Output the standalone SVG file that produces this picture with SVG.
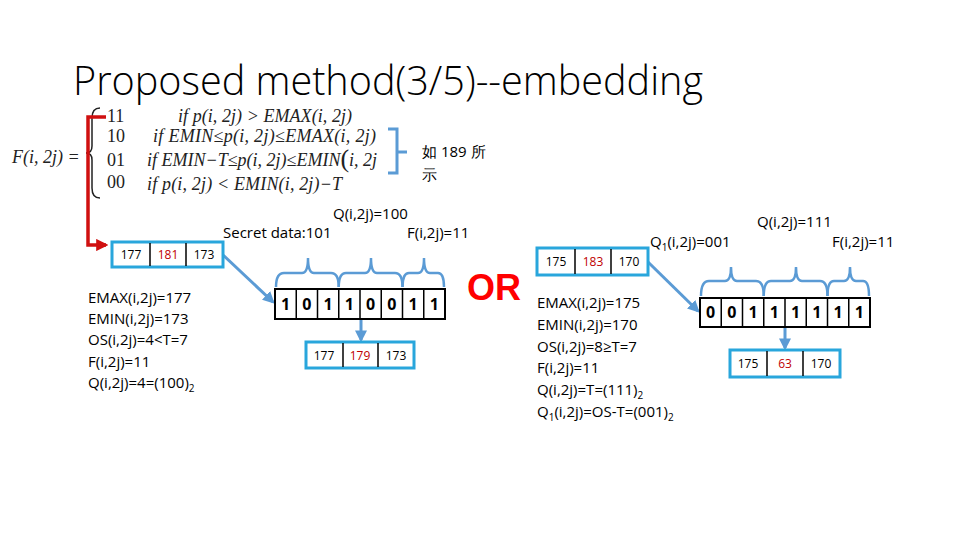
<svg xmlns="http://www.w3.org/2000/svg" width="960" height="540" viewBox="0 0 960 540">
<defs>
<style>
.t{font-family:"Open Sans","Liberation Sans",sans-serif;fill:#000}
.m{font-family:"Liberation Serif","DejaVu Serif",serif;font-style:italic;font-size:18px;fill:#222}
.mu{font-family:"Liberation Serif","DejaVu Serif",serif;font-size:18px;fill:#222}
.box{fill:#fff;stroke:#29a6dc;stroke-width:3}
.div{stroke:#000;stroke-width:1.5}
.bits{fill:#fff;stroke:#000;stroke-width:2}
.num{font-family:"Open Sans","Liberation Sans",sans-serif;font-size:12px;text-anchor:middle;fill:#000}
.red{fill:#c00000}
.bit{font-family:"Open Sans","Liberation Sans",sans-serif;font-size:16px;font-weight:bold;text-anchor:middle}
.brace{fill:none;stroke:#5b9bd5;stroke-width:2.5}
.conn{fill:none;stroke:#5b9bd5;stroke-width:3}
.lbl{font-family:"Open Sans","Liberation Sans",sans-serif;font-size:15px;fill:#000}
</style>
<marker id="ab" viewBox="0 0 10 10" refX="8" refY="5" markerWidth="4" markerHeight="4" orient="auto"><path d="M0,0 L10,5 L0,10 z" fill="#5b9bd5"/></marker>
<marker id="ar" viewBox="0 0 10 10" refX="8" refY="5" markerWidth="3.5" markerHeight="3.5" orient="auto"><path d="M0,0 L10,5 L0,10 z" fill="#d01010"/></marker>
</defs>
<rect width="960" height="540" fill="#fff"/>

<g id="title"><text class="t" x="73" y="95" font-size="40" font-weight="300" textLength="630" lengthAdjust="spacingAndGlyphs" fill="#222">Proposed method(3/5)--embedding</text></g>

<g id="formula">
<text class="m" x="12" y="163" font-size="20">F(i, 2j) =</text>
<path d="M100,108 Q92,108 92,118 L92,146 Q92,153 86,153 Q92,153 92,160 L92,188 Q92,198 100,198" fill="none" stroke="#222" stroke-width="1.5"/>
<text class="mu" x="107" y="122">11</text>
<text class="mu" x="107" y="142">10</text>
<text class="mu" x="107" y="166">01</text>
<text class="mu" x="107" y="188">00</text>
<text class="m" x="178" y="122" textLength="174">if p(i, 2j) &gt; EMAX(i, 2j)</text>
<text class="m" x="153" y="142" textLength="223">if EMIN≤p(i, 2j)≤EMAX(i, 2j)</text>
<text class="m" x="147" y="166">if EMIN−T≤p(i, 2j)≤EMIN<tspan font-style="normal" font-size="26" dy="1">(</tspan><tspan dy="-1">i, 2j</tspan></text>
<text class="m" x="147" y="190" textLength="195">if p(i, 2j) &lt; EMIN(i, 2j)−T</text>
<path d="M388,129 L397,129 L397,173 L388,173 M397,152 L407,152" fill="none" stroke="#5b9bd5" stroke-width="3"/>
<text class="t" x="422" y="157" font-size="15" font-family="'Noto Sans CJK SC','Open Sans',sans-serif">如  189 所</text>
<text class="t" x="422" y="180" font-size="15" font-family="'Noto Sans CJK SC',sans-serif">示</text>
</g>

<g id="connectors">
<polyline points="106,117 88,117 88,245 106,245" fill="none" stroke="#d01010" stroke-width="3.5" marker-end="url(#ar)"/>
<line class="conn" x1="223" y1="255" x2="273" y2="302" marker-end="url(#ab)"/>
<line class="conn" x1="361" y1="319" x2="361" y2="340" marker-end="url(#ab)"/>
<line class="conn" x1="648" y1="262" x2="698" y2="311" marker-end="url(#ab)"/>
<line class="conn" x1="785" y1="327" x2="785" y2="348" marker-end="url(#ab)"/>
</g>

<g id="box1">
<rect class="box" x="112" y="242" width="111" height="25"/>
<line class="div" x1="150" y1="243" x2="150" y2="266"/>
<line class="div" x1="186" y1="243" x2="186" y2="266"/>
<text class="num" x="131" y="259">177</text>
<text class="num red" x="168" y="259">181</text>
<text class="num" x="204" y="259">173</text>
</g>

<g id="labels1">
<text class="lbl" x="333" y="219">Q(i,2j)=100</text>
<text class="lbl" x="223" y="238">Secret data:101</text>
<text class="lbl" x="407" y="238">F(i,2j)=11</text>
</g>

<g id="bits1">
<rect class="bits" x="275" y="289" width="170" height="30"/>
<path class="div" d="M296.25,289V319M317.5,289V319M338.75,289V319M360,289V319M381.25,289V319M402.5,289V319M423.75,289V319"/>
<text class="bit" y="310"><tspan x="285.6">1</tspan><tspan x="306.9">0</tspan><tspan x="328.1">1</tspan><tspan x="349.4">1</tspan><tspan x="370.6">0</tspan><tspan x="391.9">0</tspan><tspan x="413.1">1</tspan><tspan x="434.4">1</tspan></text>
<path class="brace" d="M276,287 Q276,273 284,273 L302,273 Q308,273 308,258 Q308,273 314,273 L331,273 Q338.75,273 338.75,287"/>
<path class="brace" d="M338.75,287 Q338.75,273 346,273 L365,273 Q371,273 371,258 Q371,273 377,273 L395,273 Q402.5,273 402.5,287"/>
<path class="brace" d="M402.5,287 Q402.5,273 409,273 L418,273 Q424,273 424,258 Q424,273 430,273 L438,273 Q444,273 444,287"/>
</g>

<g id="box2">
<rect class="box" x="306" y="342" width="108" height="26"/>
<line class="div" x1="343" y1="343" x2="343" y2="367"/>
<line class="div" x1="378" y1="343" x2="378" y2="367"/>
<text class="num" x="324" y="360">177</text>
<text class="num red" x="360" y="360">179</text>
<text class="num" x="396" y="360">173</text>
</g>

<g id="info1">
<text class="lbl" x="88" y="303">EMAX(i,2j)=177</text>
<text class="lbl" x="88" y="324">EMIN(i,2j)=173</text>
<text class="lbl" x="88" y="345">OS(i,2j)=4&lt;T=7</text>
<text class="lbl" x="88" y="367">F(i,2j)=11</text>
<text class="lbl" x="88" y="388">Q(i,2j)=4=(100)<tspan font-size="10" dy="4">2</tspan></text>
</g>

<g id="or"><text x="467" y="300" font-family="'Liberation Sans',Arial,sans-serif" font-weight="bold" font-size="36" fill="#ff0000">OR</text></g>

<g id="box3">
<rect class="box" x="537" y="248" width="111" height="27"/>
<line class="div" x1="575" y1="249" x2="575" y2="274"/>
<line class="div" x1="611" y1="249" x2="611" y2="274"/>
<text class="num" x="556" y="266">175</text>
<text class="num red" x="593" y="266">183</text>
<text class="num" x="629" y="266">170</text>
</g>

<g id="labels2">
<text class="lbl" x="757" y="227">Q(i,2j)=111</text>
<text class="lbl" x="650" y="247">Q<tspan font-size="10" dy="4">1</tspan><tspan dy="-4">(i,2j)=001</tspan></text>
<text class="lbl" x="832" y="247">F(i,2j)=11</text>
</g>

<g id="bits2">
<rect class="bits" x="700" y="298" width="170" height="29"/>
<path class="div" d="M721.25,298V327M742.5,298V327M763.75,298V327M785,298V327M806.25,298V327M827.5,298V327M848.75,298V327"/>
<text class="bit" y="318"><tspan x="710.6">0</tspan><tspan x="731.9">0</tspan><tspan x="753.1">1</tspan><tspan x="774.4">1</tspan><tspan x="795.6">1</tspan><tspan x="816.9">1</tspan><tspan x="838.1">1</tspan><tspan x="859.4">1</tspan></text>
<path class="brace" d="M701,296 Q701,281 709,281 L725,281 Q731,281 731,267 Q731,281 737,281 L756,281 Q763.75,281 763.75,296"/>
<path class="brace" d="M763.75,296 Q763.75,281 771,281 L790,281 Q796,281 796,267 Q796,281 802,281 L820,281 Q827.5,281 827.5,296"/>
<path class="brace" d="M827.5,296 Q827.5,281 834,281 L844,281 Q850,281 850,267 Q850,281 856,281 L863,281 Q869,281 869,296"/>
</g>

<g id="box4">
<rect class="box" x="730" y="350" width="110" height="27"/>
<line class="div" x1="767" y1="351" x2="767" y2="376"/>
<line class="div" x1="803" y1="351" x2="803" y2="376"/>
<text class="num" x="748" y="368">175</text>
<text class="num red" x="785" y="368">63</text>
<text class="num" x="821" y="368">170</text>
</g>

<g id="info2">
<text class="lbl" x="537" y="308">EMAX(i,2j)=175</text>
<text class="lbl" x="537" y="330">EMIN(i,2j)=170</text>
<text class="lbl" x="537" y="352">OS(i,2j)=8≥T=7</text>
<text class="lbl" x="537" y="373">F(i,2j)=11</text>
<text class="lbl" x="537" y="395">Q(i,2j)=T=(111)<tspan font-size="10" dy="4">2</tspan></text>
<text class="lbl" x="537" y="417">Q<tspan font-size="10" dy="4">1</tspan><tspan dy="-4">(i,2j)=OS-T=(001)</tspan><tspan font-size="10" dy="4">2</tspan></text>
</g>
</svg>
